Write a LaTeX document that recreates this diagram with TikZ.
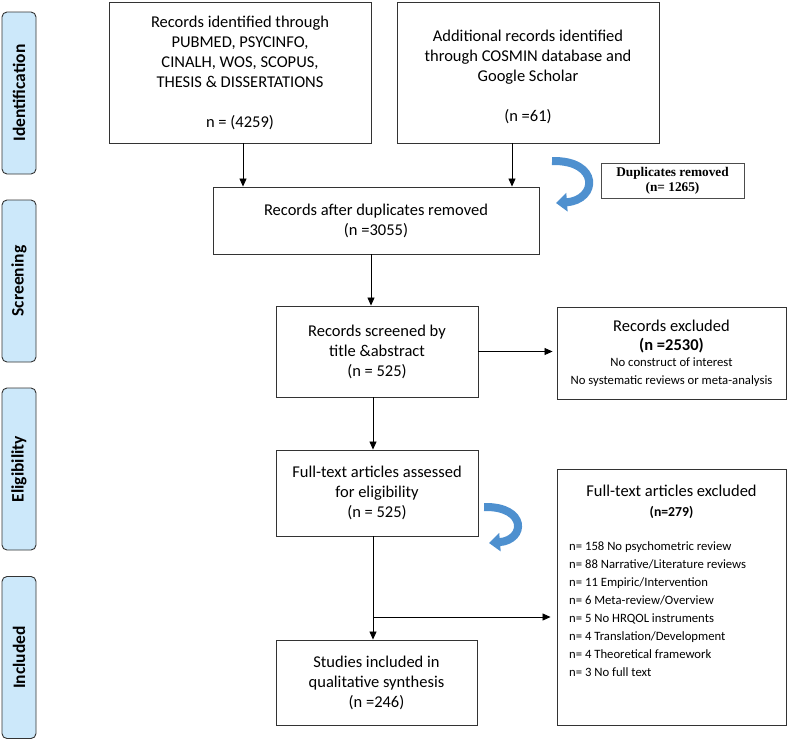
\documentclass[tikz,border=0pt]{standalone}
\usepackage{fontspec}
\setmainfont{Carlito}
\newfontfamily\dupfont{Liberation Serif}
\usetikzlibrary{arrows.meta,calc}
\definecolor{sidefill}{RGB}{204,232,250}
\definecolor{curvblue}{RGB}{78,144,207}
\tikzset{
  box/.style={draw=black!80, line width=0.9pt, align=center, font=\fontsize{16.5}{20}\selectfont, inner sep=0pt},
  side/.style={draw=black!80, line width=0.9pt, fill=sidefill, rounded corners=5pt, minimum width=162pt, minimum height=34pt, rotate=90, font=\fontsize{17.5}{20}\selectfont\bfseries, inner sep=0pt},
  arr/.style={-{Triangle[length=8pt,width=7pt]}, line width=0.8pt, black},
  curv/.style={line width=8pt, curvblue, -{Triangle[length=11pt,width=18pt]}},
}
\begin{document}
\begin{tikzpicture}[x=1pt,y=-1pt]
\useasboundingbox (0,0) rectangle (787,739);
% side labels
\node[side] (s1) at (19,93) {Identification};
\node[side] (s2) at (19,281) {Screening};
\node[side] (s3) at (19,469) {Eligibility};
\node[side] (s4) at (19,657.5) {Included};
% boxes
\node[box, minimum width=262pt, minimum height=141pt] (A) at (240,72.5)
  {Records identified through\\PUBMED, PSYCINFO,\\CINALH, WOS, SCOPUS,\\THESIS \& DISSERTATIONS\\\mbox{}\\n = (4259)};
\node[box, minimum width=262pt, minimum height=141pt] (B) at (528,72.5)
  {\mbox{}\\Additional records identified\\through COSMIN database and\\Google Scholar\\\mbox{}\\(n =61)};
\node[box, minimum width=326pt, minimum height=67pt] (C) at (376,220.5)
  {Records after duplicates removed\\(n =3055)};
\node[draw=black!70, line width=0.8pt, minimum width=143pt, minimum height=35pt, inner sep=0pt, align=center, font=\dupfont\fontsize{13.3}{15}\selectfont\bfseries] (dup) at (672.5,180.5)
  {Duplicates removed\\(n= 1265)};
\node[box, minimum width=202pt, minimum height=91pt] (D) at (377,351.5)
  {Records screened by\\title \&abstract\\(n = 525)};
\node[box, minimum width=229pt, minimum height=92pt] (E) at (671.5,353) {};
\node[align=center, inner sep=0pt, font=\fontsize{16.5}{19}\selectfont] (Et) at (E.center)
  {Records excluded\\\textbf{(n =2530)}\\[-3pt]{\fontsize{12.7}{18}\selectfont No construct of interest}\\[-1pt]{\fontsize{12.7}{18}\selectfont No systematic reviews or meta-analysis}};
\node[box, minimum width=202pt, minimum height=86pt] (F) at (377,493)
  {Full-text articles assessed\\for eligibility\\(n = 525)};
\node[box, minimum width=229pt, minimum height=256pt] (G) at (671.5,597) {};
\node[inner sep=0pt, font=\fontsize{16.5}{19}\selectfont] (Gt) at (671.5,491) {Full-text articles excluded};
\node[inner sep=0pt, font=\fontsize{13.7}{15}\selectfont\bfseries] (Gn) at (671.5,512) {(n=279)};
\node[anchor=north west, inner sep=0pt, align=left, font=\fontsize{12.7}{18}\selectfont] (Gl) at (569,541)
  {n= 158 No psychometric review\\n= 88 Narrative/Literature reviews\\n= 11 Empiric/Intervention\\n= 6 Meta-review/Overview\\n= 5 No HRQOL instruments\\n= 4 Translation/Development\\n= 4 Theoretical framework\\n= 3 No full text};
\node[box, minimum width=201pt, minimum height=85pt] (H) at (376.5,682.5)
  {Studies included in\\qualitative synthesis\\(n =246)};
% connectors
\draw[arr] ([xshift=3pt]A.south) -- ([xshift=3pt]A.south |- C.north);
\draw[arr] ([xshift=-16pt]B.south) -- ([xshift=-16pt]B.south |- C.north);
\draw[arr] ([xshift=-5pt]C.south) -- ([xshift=-5pt]C.south |- D.north);
\draw[arr, shorten >=4pt] (D.east) -- (D.east -| E.west);
\draw[arr] ([xshift=-4pt]D.south) -- ([xshift=-4pt]D.south |- F.north);
\draw[arr] ([xshift=-4pt]F.south) -- ([xshift=-4pt]F.south |- H.north);
\coordinate (br) at ([xshift=-4pt]F.south |- 0,617);
\draw[arr, shorten >=6pt] (br) -- (br -| G.west);
% curved blue arrows
\coordinate (c1s) at (552,161);
\coordinate (c1e) at (556,203);
\draw[curv] (c1s) .. controls (600,160) and (598,200) .. (c1e);
\coordinate (c2s) at (484,507);
\coordinate (c2e) at (489,543);
\draw[curv] (c2s) .. controls (527,506) and (526,540) .. (c2e);
\end{tikzpicture}
\end{document}
